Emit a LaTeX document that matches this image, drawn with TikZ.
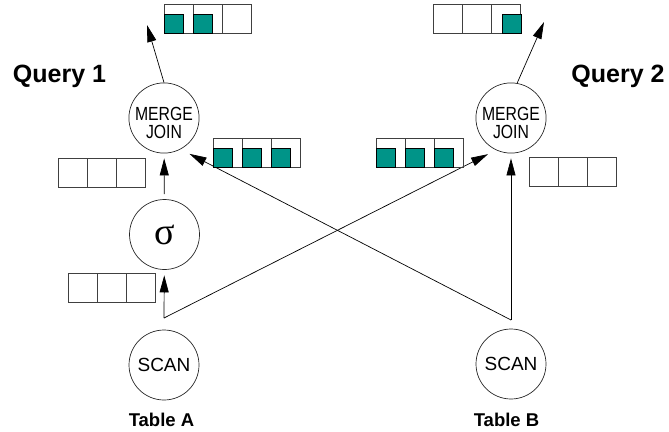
\documentclass[tikz,border=0pt]{standalone}
\usepackage{fontspec}
\setmainfont{Liberation Sans}
\newfontfamily\narrowfont[FakeStretch=0.83]{Liberation Sans}
\newfontfamily\greekfont{Liberation Serif}
\usetikzlibrary{arrows.meta,calc}
\definecolor{tupleteal}{RGB}{0,148,136}
\tikzset{
  opnode/.style={draw=black!85,circle,line width=0.7pt,minimum size=70pt,inner sep=0pt},
  mjnode/.style={opnode,align=center,text height=40pt,text depth=0pt,font=\narrowfont\fontsize{19}{18}\selectfont},
  scannode/.style={opnode,font=\fontsize{19}{22}\selectfont},
  flow/.style={line width=0.7pt,-{Triangle[length=17pt,width=9pt]}},
  cellbox/.style={draw=black!75,line width=0.9pt},
  tuple/.style={draw=black,line width=0.6pt,fill=tupleteal},
  querylabel/.style={anchor=base,font=\fontsize{25}{30}\selectfont\bfseries},
  tablelabel/.style={anchor=base,font=\fontsize{18.5}{22}\selectfont\bfseries}
}
\begin{document}
\begin{tikzpicture}[x=1pt,y=-1pt]
  \pgfmathsetmacro\cw{29.3}   % width of one buffer cell
  \pgfmathsetmacro\ch{29}     % height of one buffer cell
  \pgfmathsetmacro\fs{19}     % side of a tuple square
  \useasboundingbox (0,0) rectangle (669,431);

% operators
  \node[mjnode] (mjA) at (164,118) {MERGE\\JOIN};
  \node[opnode,font=\greekfont\fontsize{38}{38}\selectfont] (sigma) at (164.5,234.5) {σ};
  \node[scannode] (scanA) at (164,365) {SCAN};
  \node[mjnode] (mjB) at (511,118) {MERGE\\JOIN};
  \node[scannode] (scanB) at (511,364) {SCAN};

% labels
  \node[querylabel] (q1) at (59.5,82) {Query 1};
  \node[querylabel] (q2) at (618,82) {Query 2};
  \node[tablelabel] (tabA) at (161.5,426) {Table A};
  \node[tablelabel] (tabB) at (506.5,426) {Table B};

% fork points above the scans and free ends of the outputs
  \coordinate (forkA) at (164,318);
  \coordinate (forkB) at (511,320);
  \coordinate (outA) at (147,25);
  \coordinate (outB) at (544,22);

% connectors
  \draw[flow,shorten >=5.5pt] (forkA) -- (sigma);
  \draw[flow,shorten <=5pt,shorten >=5pt] (sigma) -- (mjA);
  \draw[flow,shorten >=9pt] (forkA) -- (mjB.245);
  \draw[flow,shorten >=10pt] (forkB) -- (mjA.298);
  \draw[flow,shorten >=5pt] (forkB) -- (mjB);
  \draw[flow] (mjA.north) -- (outA);
  \draw[flow] (mjB.80) -- (outB);

% output buffer, query 1
  \foreach \i in {0,1,2} \draw[cellbox] (164+\i*\cw,4) rectangle +(\cw,\ch);
  \foreach \i in {0,1} \draw[tuple] (164+\i*\cw,4+\ch-\fs) rectangle +(\fs,\fs);

% input buffers, query 1
  \foreach \i in {0,1,2} \draw[cellbox] (213+\i*\cw,138) rectangle +(\cw,\ch);
  \foreach \i in {0,1,2} \draw[tuple] (213+\i*\cw,138+\ch-\fs) rectangle +(\fs,\fs);
  \foreach \i in {0,1,2} \draw[cellbox] (58+\i*\cw,158) rectangle +(\cw,\ch);
  \foreach \i in {0,1,2} \draw[cellbox] (68+\i*\cw,273) rectangle +(\cw,\ch);

% output buffer, query 2
  \foreach \i in {0,1,2} \draw[cellbox] (433+\i*\cw,4) rectangle +(\cw,\ch);
  \draw[tuple] (433+3*\cw-\fs,4+\ch-\fs) rectangle +(\fs,\fs);

% input buffers, query 2
  \foreach \i in {0,1,2} \draw[cellbox] (376+\i*\cw,138) rectangle +(\cw,\ch);
  \foreach \i in {0,1,2} \draw[tuple] (376+\i*\cw,138+\ch-\fs) rectangle +(\fs,\fs);
  \foreach \i in {0,1,2} \draw[cellbox] (529+\i*\cw,157) rectangle +(\cw,\ch);

\end{tikzpicture}
\end{document}
